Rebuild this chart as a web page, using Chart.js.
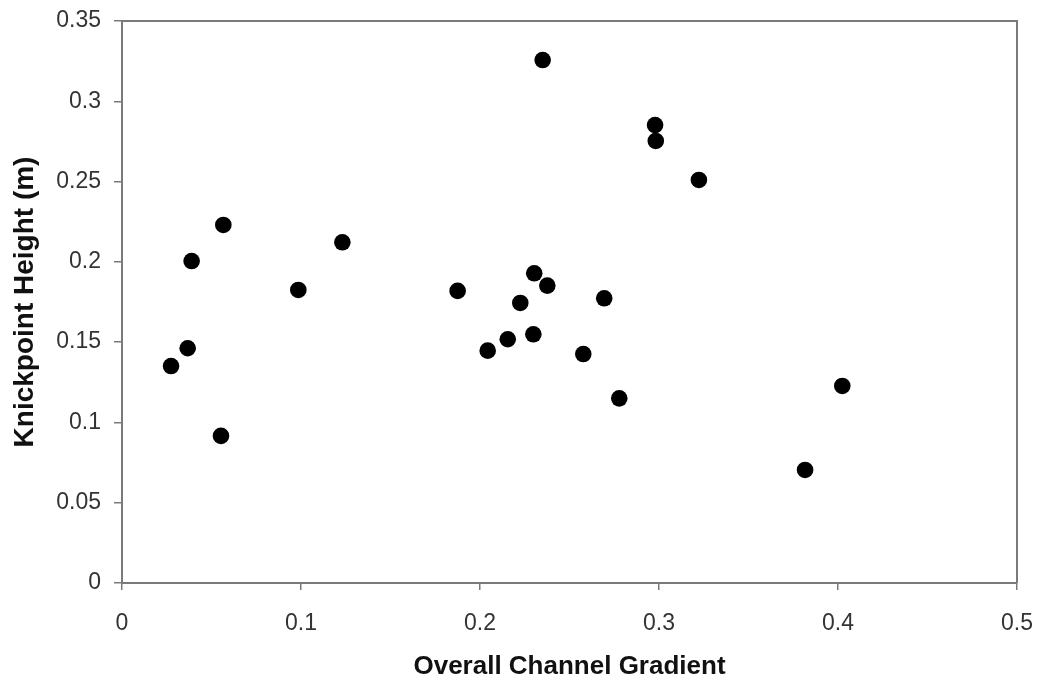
<!DOCTYPE html>
<html>
<head>
<meta charset="utf-8">
<script src="https://cdn.jsdelivr.net/npm/chart.js@4/dist/chart.umd.min.js"></script>
<style>
  html, body { margin: 0; padding: 0; background: #fff; }
  #wrap { width: 1040px; height: 684px; }
</style>
</head>
<body>
<div id="wrap"><canvas id="scatter"></canvas></div>
<script>
// overall channel gradient (x) and knickpoint height in metres (y)
var gradient = [0.0274, 0.0367, 0.0389, 0.0566, 0.0553, 0.0985, 0.1231, 0.1875,
                0.2043, 0.2155, 0.2225, 0.2303, 0.2298, 0.2376, 0.2350, 0.2577,
                0.2694, 0.2778, 0.2978, 0.2982, 0.3223, 0.3816, 0.4024];
var height = [0.1351, 0.1462, 0.2005, 0.2230, 0.0916, 0.1825, 0.2122, 0.1819,
              0.1447, 0.1518, 0.1744, 0.1929, 0.1549, 0.1852, 0.3257, 0.1426,
              0.1773, 0.1150, 0.2852, 0.2753, 0.2510, 0.0704, 0.1227];
var xTicks = [0, 0.1, 0.2, 0.3, 0.4, 0.5];
var yTicks = [0, 0.05, 0.1, 0.15, 0.2, 0.25, 0.3, 0.35];

var points = gradient.map(function (g, i) { return { x: g, y: height[i] }; });

var axisGrey = '#7a7a7a';
var family = 'Liberation Sans, Arial, sans-serif';
var tickFont = { family: family, size: 23 };

// closes the plot box on the top and right sides
var frame = {
    id: 'frame',
    afterDraw: function (chart) {
        var a = chart.chartArea, c = chart.ctx;
        c.save();
        c.strokeStyle = axisGrey;
        c.lineWidth = 2;
        c.beginPath();
        c.moveTo(a.left, a.top);
        c.lineTo(a.right, a.top);
        c.lineTo(a.right, a.bottom);
        c.stroke();
        c.restore();
    }
};

var ctx = document.getElementById('scatter').getContext('2d');
var myChart = new Chart(ctx, {
    type: 'scatter',
    data: {
        datasets: [{
            label: 'Knickpoints',
            data: points,
            backgroundColor: '#000',
            borderColor: '#000',
            borderWidth: 0,
            pointRadius: 8.3,
            pointHoverRadius: 8.3
        }]
    },
    options: {
        responsive: true,
        maintainAspectRatio: false,
        animation: false,
        layout: { padding: { left: 0, right: 23, top: 21, bottom: 0 } },
        plugins: {
            legend: { display: false },
            tooltip: { enabled: false }
        },
        scales: {
            x: {
                type: 'linear',
                min: 0,
                max: 0.5,
                afterFit: function (s) {
                    s.height = 101;
                    s.paddingLeft = 0;
                    s.paddingRight = 0;
                },
                afterBuildTicks: function (s) { s.ticks = xTicks.map(function (v) { return { value: v }; }); },
                ticks: {
                    color: '#333',
                    font: tickFont,
                    padding: 20,
                    maxRotation: 0,
                    callback: function (v) { return String(v); }
                },
                grid: {
                    drawOnChartArea: false,
                    drawTicks: true,
                    tickLength: 7,
                    color: axisGrey,
                    lineWidth: 1.5
                },
                border: { display: true, color: axisGrey, width: 2 },
                title: {
                    display: true,
                    text: 'Overall Channel Gradient',
                    color: '#111',
                    font: { family: family, size: 26, weight: 'bold' },
                    padding: { top: 0, bottom: 2 }
                }
            },
            y: {
                type: 'linear',
                min: 0,
                max: 0.35,
                afterFit: function (s) {
                    s.width = 122;
                    s.paddingTop = 0;
                    s.paddingBottom = 0;
                },
                afterBuildTicks: function (s) { s.ticks = yTicks.map(function (v) { return { value: v }; }); },
                ticks: {
                    color: '#333',
                    font: tickFont,
                    padding: 13,
                    callback: function (v) { return String(v); }
                },
                grid: {
                    drawOnChartArea: false,
                    drawTicks: true,
                    tickLength: 8,
                    color: axisGrey,
                    lineWidth: 1.5
                },
                border: { display: true, color: axisGrey, width: 2 },
                title: {
                    display: true,
                    text: 'Knickpoint Height (m)',
                    color: '#111',
                    font: { family: family, size: 28, weight: 'bold' },
                    padding: { top: 8, bottom: 0 }
                }
            }
        }
    },
    plugins: [frame]
});
</script>
</body>
</html>
